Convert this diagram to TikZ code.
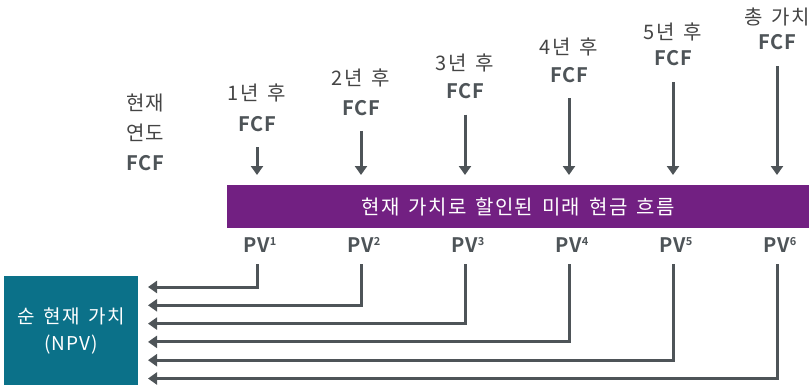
\documentclass[tikz,border=0pt]{standalone}
\usepackage{fontspec}
\setmainfont{Noto Sans CJK KR}
\newfontfamily\kr{Noto Sans CJK KR}[LetterSpace=6,WordSpace=1.6]
\newfontfamily\krb{Noto Sans CJK KR}[UprightFont=* Bold,LetterSpace=3]
\usetikzlibrary{arrows.meta}
\definecolor{purp}{HTML}{722082}
\definecolor{teal}{HTML}{0B7189}
\definecolor{ink}{HTML}{4E5458}
\definecolor{txt}{HTML}{444444}
\begin{document}
\begin{tikzpicture}[x=1pt,y=-1pt,
  lbl/.style={text=txt,font=\kr\fontsize{20}{22}\selectfont,inner sep=0pt,anchor=center},
  fcf/.style={text=ink,font=\krb\fontsize{20}{22}\selectfont,inner sep=0pt,anchor=center},
  arr/.style={draw=ink,line width=3pt,-{Triangle[length=9pt,width=12pt]}},
  ln/.style={draw=ink,line width=3pt}]
\useasboundingbox (0,0) rectangle (812,386);
\node[fill=purp,minimum width=582pt,minimum height=43pt,inner sep=0pt,anchor=north west,
  text=white,font=\kr\fontsize{20}{22}\selectfont] (bar) at (227,185) {현재 가치로 할인된 미래 현금 흐름};
\node[fill=teal,minimum width=134pt,minimum height=109pt,inner sep=0pt,anchor=north west,
  text=white,font=\kr\fontsize{19}{27}\selectfont,align=center] (npv) at (4,276) {순 현재 가치\\(NPV)};
\node[lbl] (c0a) at (145,103) {현재};
\node[lbl] (c0b) at (145,133) {연도};
\node[fcf] (c0c) at (145,163) {FCF};
\foreach \i/\t in {1/1년 후,2/2년 후,3/3년 후,4/4년 후,5/5년 후,6/총 가치}{
  \pgfmathsetmacro{\xx}{257+104*(\i-1)}
  \pgfmathsetmacro{\ya}{93-15.2*(\i-1)}
  \pgfmathsetmacro{\yb}{124-16.4*(\i-1)}
  \pgfmathsetmacro{\yt}{147-16.2*(\i-1)}
  \pgfmathsetmacro{\yr}{287+18.3*(\i-1)}
  \node[lbl] (t\i) at (\xx,\ya) {\t};
  \node[fcf] (f\i) at (\xx,\yb) {FCF};
  \coordinate (a\i) at (\xx,\yt);
  \coordinate (b\i) at (\xx,175);
  \draw[arr] (a\i) -- (b\i);
  \node[fcf] (pv\i) at (\xx+3,245) {PV\raisebox{0.6ex}{\fontsize{11}{11}\selectfont\i}};
  \coordinate (s\i) at (\xx,264);
  \coordinate (e\i) at (148,\yr);
  \draw[arr] (s\i) |- (e\i);
}
\end{tikzpicture}
\end{document}
